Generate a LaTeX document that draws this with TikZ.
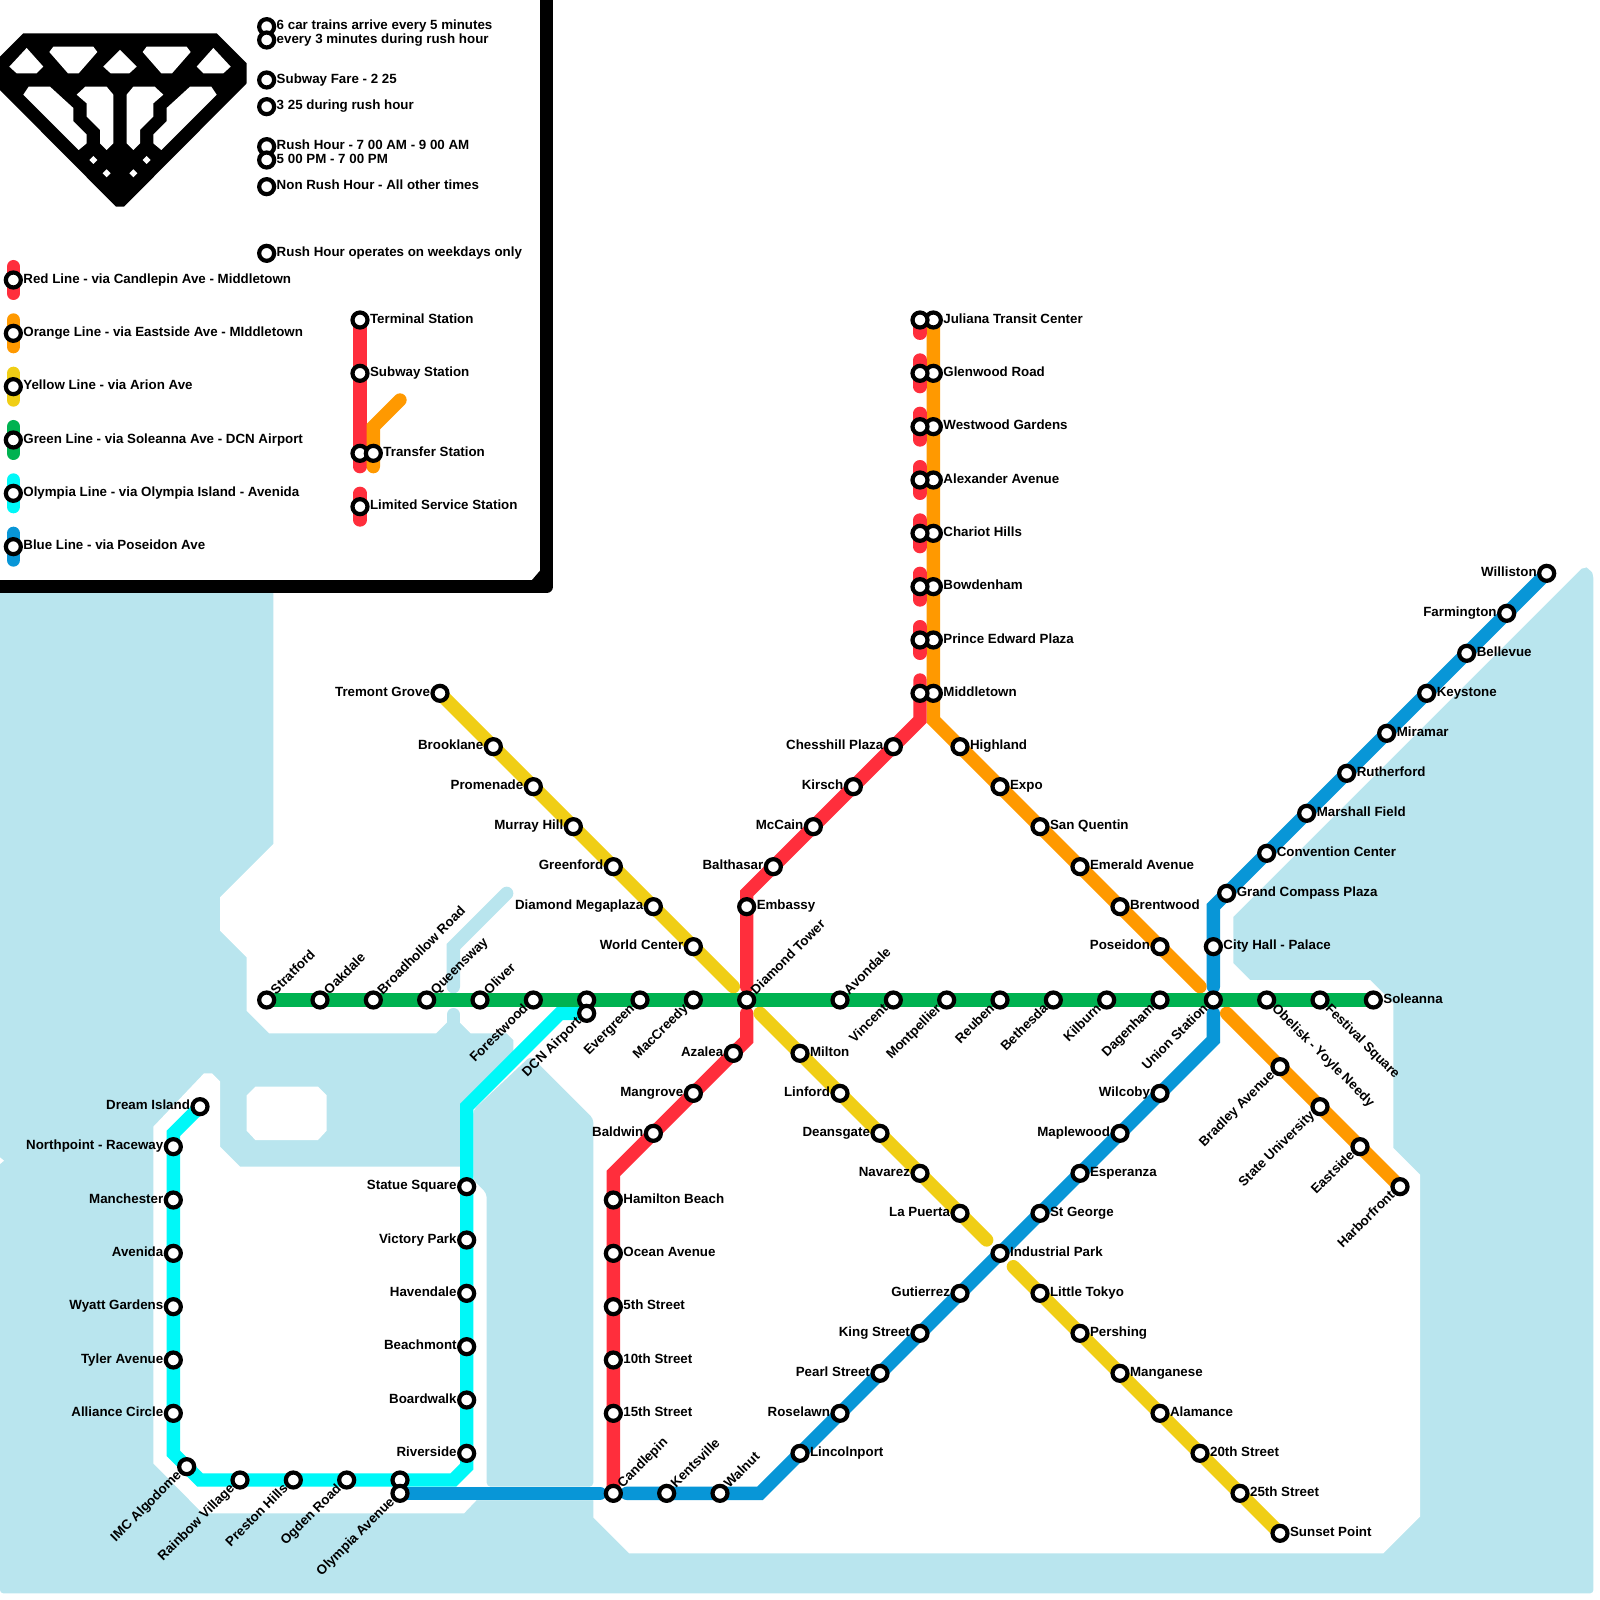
\documentclass[tikz,border=0pt]{standalone}
\usepackage{fontspec}
\setmainfont{Liberation Sans}
\usetikzlibrary{backgrounds}
\definecolor{redln}{HTML}{FF2E3C}
\definecolor{orangeln}{HTML}{FF9900}
\definecolor{yellowln}{HTML}{F0CE15}
\definecolor{greenln}{HTML}{00B251}
\definecolor{cyanln}{HTML}{00F8F8}
\definecolor{blueln}{HTML}{0896D7}
\definecolor{water}{HTML}{B9E5EE}
\tikzset{
  stn/.style={circle,draw=black,fill=white,line width=0.063cm,minimum size=0.225cm,inner sep=0pt,label distance=0.045cm},
  tag/.style={font=\fontsize{5.69}{6}\selectfont\bfseries,inner sep=0pt,text height=4pt,text depth=1.2pt},
  stnE/.style={stn,label={[tag,anchor=west]0:#1}},
  stnW/.style={stn,label={[tag,anchor=east]180:#1}},
  stnNE/.style={stn,label={[tag,rotate=45,anchor=west]45:#1}},
  stnSW/.style={stn,label={[tag,rotate=45,anchor=east]225:#1}},
  stnSE/.style={stn,label={[tag,rotate=-45,anchor=west]-45:#1}},
  metro/.style={line width=0.2cm,line cap=round,line join=miter}
}
% one half of the gem holes, the other half is mirrored
\newcommand{\gemhalf}{
  \fill[white] (2,3.6) -- (3.25,5) -- (2.75,5.5) -- (1.25,5.5) -- (0.7,5) -- cycle;
  \fill[white] (4,3.5) -- (7,3.5) -- (7.3,3.9) -- (5.9,5.5) -- (5.1,5.5) -- (3.7,3.9) -- cycle;
  \fill[white] (2.15,6.5) -- (3.75,6.5) -- (5.5,8.1) -- (5.5,9.1) -- (6.5,10.1) -- (6.5,10.75) -- (5.9,11.25) -- (1.75,7.1) -- cycle;
  \fill[white] (6.4,6.5) -- (8,6.5) -- (8.5,7.1) -- (8.5,10.75) -- (8,11.25) -- (7.5,10.75) -- (7.5,9.75) -- (6.5,8.75) -- (6.5,7.75) -- (5.75,7.1) -- cycle;
  \fill[white] (7,11.7) -- (7.3,12) -- (7,12.3) -- (6.7,12) -- cycle;
  \fill[white] (8,12.7) -- (8.3,13) -- (8,13.3) -- (7.7,13) -- cycle;
}
\begin{document}
\begin{tikzpicture}[x=0.2cm,y=-0.2cm]
\useasboundingbox (0,0) rectangle (120,120);

% legend
\node[stnE=6 car trains arrive every 5 minutes] (trains) at (20,2) {};
\node[stnE=every 3 minutes during rush hour] (rushtrains) at (20,3) {};
\node[stnE=Subway Fare - 2 25] (fare) at (20,6) {};
\node[stnE=3 25 during rush hour] (rushfare) at (20,8) {};
\node[stnE=Rush Hour - 7 00 AM - 9 00 AM] (rusham) at (20,11) {};
\node[stnE=5 00 PM - 7 00 PM] (rushpm) at (20,12) {};
\node[stnE=Non Rush Hour - All other times] (nonrush) at (20,14) {};
\node[stnE=Rush Hour operates on weekdays only] (weekdays) at (20,19) {};
\node[stnE=Red Line - via Candlepin Ave - Middletown] (keyred) at (1,21) {};
\node[stnE=Orange Line - via Eastside Ave - MIddletown] (keyorange) at (1,25) {};
\node[stnE=Yellow Line - via Arion Ave] (keyyellow) at (1,29) {};
\node[stnE=Green Line - via Soleanna Ave - DCN Airport] (keygreen) at (1,33) {};
\node[stnE=Olympia Line - via Olympia Island - Avenida] (keycyan) at (1,37) {};
\node[stnE=Blue Line - via Poseidon Ave] (keyblue) at (1,41) {};
\node[stnE=Terminal Station] (keyterm) at (27,24) {};
\node[stnE=Subway Station] (keysub) at (27,28) {};
\node[stn] (keytransa) at (27,34) {};
\node[stnE=Transfer Station] (keytransb) at (28,34) {};
\node[stnE=Limited Service Station] (keyltd) at (27,38) {};

% green line
\node[stnNE=Stratford] (stratford) at (20,75) {};
\node[stnNE=Oakdale] (oakdale) at (24,75) {};
\node[stnNE=Broadhollow Road] (broadhollow) at (28,75) {};
\node[stnNE=Queensway] (queensway) at (32,75) {};
\node[stnNE=Oliver] (oliver) at (36,75) {};
\node[stnSW=Forestwood] (forestwood) at (40,75) {};
\node[stn] (airporttop) at (44,75) {};
\node[stnSW=Evergreen] (evergreen) at (48,75) {};
\node[stnSW=MacCreedy] (maccreedy) at (52,75) {};
\node[stnNE=Diamond Tower] (diamondtower) at (56,75) {};
\node[stnNE=Avondale] (avondale) at (63,75) {};
\node[stnSW=Vincent] (vincent) at (67,75) {};
\node[stnSW=Montpellier] (montpellier) at (71,75) {};
\node[stnSW=Reuben] (reuben) at (75,75) {};
\node[stnSW=Bethesda] (bethesda) at (79,75) {};
\node[stnSW=Kilburn] (kilburn) at (83,75) {};
\node[stnSW=Dagenham] (dagenham) at (87,75) {};
\node[stnSW=Union Station] (union) at (91,75) {};
\node[stnSE=Obelisk - Yoyle Needy] (obelisk) at (95,75) {};
\node[stnSE=Festival Square] (festival) at (99,75) {};
\node[stnE=Soleanna] (soleanna) at (103,75) {};

% olympia line
\node[stnW=Dream Island] (dreamisland) at (15,83) {};
\node[stnW=Northpoint - Raceway] (northpoint) at (13,86) {};
\node[stnW=Manchester] (manchester) at (13,90) {};
\node[stnW=Avenida] (avenida) at (13,94) {};
\node[stnW=Wyatt Gardens] (wyatt) at (13,98) {};
\node[stnW=Tyler Avenue] (tyler) at (13,102) {};
\node[stnW=Alliance Circle] (alliance) at (13,106) {};
\node[stnSW=IMC Algodome] (imc) at (14,110) {};
\node[stnSW=Rainbow Village] (rainbow) at (18,111) {};
\node[stnSW=Preston Hills] (preston) at (22,111) {};
\node[stnSW=Ogden Road] (ogden) at (26,111) {};
\node[stn] (olympiatop) at (30,111) {};
\node[stnSW=Olympia Avenue] (olympiaave) at (30,112) {};
\node[stnW=Riverside] (riverside) at (35,109) {};
\node[stnW=Boardwalk] (boardwalk) at (35,105) {};
\node[stnW=Beachmont] (beachmont) at (35,101) {};
\node[stnW=Havendale] (havendale) at (35,97) {};
\node[stnW=Victory Park] (victory) at (35,93) {};
\node[stnW=Statue Square] (statue) at (35,89) {};
\node[stnSW=DCN Airport] (airport) at (44,76) {};

% blue line
\node[stnNE=Candlepin] (candlepin) at (46,112) {};
\node[stnNE=Kentsville] (kentsville) at (50,112) {};
\node[stnNE=Walnut] (walnut) at (54,112) {};
\node[stnE=Lincolnport] (lincolnport) at (60,109) {};
\node[stnW=Roselawn] (roselawn) at (63,106) {};
\node[stnW=Pearl Street] (pearl) at (66,103) {};
\node[stnW=King Street] (king) at (69,100) {};
\node[stnW=Gutierrez] (gutierrez) at (72,97) {};
\node[stnE=Industrial Park] (industrial) at (75,94) {};
\node[stnE=St George] (stgeorge) at (78,91) {};
\node[stnE=Esperanza] (esperanza) at (81,88) {};
\node[stnW=Maplewood] (maplewood) at (84,85) {};
\node[stnW=Wilcoby] (wilcoby) at (87,82) {};
\node[stnE=City Hall - Palace] (cityhall) at (91,71) {};
\node[stnE=Grand Compass Plaza] (compass) at (92,67) {};
\node[stnE=Convention Center] (convention) at (95,64) {};
\node[stnE=Marshall Field] (marshall) at (98,61) {};
\node[stnE=Rutherford] (rutherford) at (101,58) {};
\node[stnE=Miramar] (miramar) at (104,55) {};
\node[stnE=Keystone] (keystone) at (107,52) {};
\node[stnE=Bellevue] (bellevue) at (110,49) {};
\node[stnW=Farmington] (farmington) at (113,46) {};
\node[stnW=Williston] (williston) at (116,43) {};

% orange line
\node[stnE=Juliana Transit Center] (juliana) at (70,24) {};
\node[stnE=Glenwood Road] (glenwood) at (70,28) {};
\node[stnE=Westwood Gardens] (westwood) at (70,32) {};
\node[stnE=Alexander Avenue] (alexander) at (70,36) {};
\node[stnE=Chariot Hills] (chariot) at (70,40) {};
\node[stnE=Bowdenham] (bowdenham) at (70,44) {};
\node[stnE=Prince Edward Plaza] (prince) at (70,48) {};
\node[stnE=Middletown] (middletown) at (70,52) {};
\node[stnE=Highland] (highland) at (72,56) {};
\node[stnE=Expo] (expo) at (75,59) {};
\node[stnE=San Quentin] (sanquentin) at (78,62) {};
\node[stnE=Emerald Avenue] (emerald) at (81,65) {};
\node[stnE=Brentwood] (brentwood) at (84,68) {};
\node[stnW=Poseidon] (poseidon) at (87,71) {};
\node[stnSW=Bradley Avenue] (bradley) at (96,80) {};
\node[stnSW=State University] (stateuni) at (99,83) {};
\node[stnSW=Eastside] (eastside) at (102,86) {};
\node[stnSW=Harborfront] (harborfront) at (105,89) {};

% red line
\node[stn] (red24) at (69,24) {};
\node[stn] (red28) at (69,28) {};
\node[stn] (red32) at (69,32) {};
\node[stn] (red36) at (69,36) {};
\node[stn] (red40) at (69,40) {};
\node[stn] (red44) at (69,44) {};
\node[stn] (red48) at (69,48) {};
\node[stn] (red52) at (69,52) {};
\node[stnW=Chesshill Plaza] (chesshill) at (67,56) {};
\node[stnW=Kirsch] (kirsch) at (64,59) {};
\node[stnW=McCain] (mccain) at (61,62) {};
\node[stnW=Balthasar] (balthasar) at (58,65) {};
\node[stnE=Embassy] (embassy) at (56,68) {};
\node[stnW=Azalea] (azalea) at (55,79) {};
\node[stnW=Mangrove] (mangrove) at (52,82) {};
\node[stnW=Baldwin] (baldwin) at (49,85) {};
\node[stnE=Hamilton Beach] (hamilton) at (46,90) {};
\node[stnE=Ocean Avenue] (ocean) at (46,94) {};
\node[stnE=5th Street] (fifth) at (46,98) {};
\node[stnE=10th Street] (tenth) at (46,102) {};
\node[stnE=15th Street] (fifteenth) at (46,106) {};

% yellow line
\node[stnW=Tremont Grove] (tremont) at (33,52) {};
\node[stnW=Brooklane] (brooklane) at (37,56) {};
\node[stnW=Promenade] (promenade) at (40,59) {};
\node[stnW=Murray Hill] (murray) at (43,62) {};
\node[stnW=Greenford] (greenford) at (46,65) {};
\node[stnW=Diamond Megaplaza] (megaplaza) at (49,68) {};
\node[stnW=World Center] (worldcenter) at (52,71) {};
\node[stnE=Milton] (milton) at (60,79) {};
\node[stnW=Linford] (linford) at (63,82) {};
\node[stnW=Deansgate] (deansgate) at (66,85) {};
\node[stnW=Navarez] (navarez) at (69,88) {};
\node[stnW=La Puerta] (lapuerta) at (72,91) {};
\node[stnE=Little Tokyo] (littletokyo) at (78,97) {};
\node[stnE=Pershing] (pershing) at (81,100) {};
\node[stnE=Manganese] (manganese) at (84,103) {};
\node[stnE=Alamance] (alamance) at (87,106) {};
\node[stnE=20th Street] (twentieth) at (90,109) {};
\node[stnE=25th Street] (twentyfifth) at (93,112) {};
\node[stnE=Sunset Point] (sunset) at (96,115) {};

% bends and free ends of the lines
\coordinate (olyA) at (13,85);
\coordinate (olyB) at (13,109);
\coordinate (olyC) at (15,111);
\coordinate (olyD) at (34,111);
\coordinate (olyE) at (35,110);
\coordinate (olyF) at (35,83);
\coordinate (olyG) at (42,76);
\coordinate (bluA) at (45,112);
\coordinate (bluB) at (47,112);
\coordinate (bluC) at (57,112);
\coordinate (bluD) at (91,78);
\coordinate (bluE) at (91,76);
\coordinate (bluF) at (91,74);
\coordinate (bluG) at (91,68);
\coordinate (oraA) at (70,54);
\coordinate (oraB) at (90,74);
\coordinate (oraC) at (92,76);
\coordinate (redA) at (69,54);
\coordinate (redB) at (56,67);
\coordinate (redC) at (56,74);
\coordinate (redD) at (56,76);
\coordinate (redE) at (56,78);
\coordinate (redF) at (46,88);
\coordinate (yelA) at (55,74);
\coordinate (yelB) at (57,76);
\coordinate (yelC) at (74,93);
\coordinate (yelD) at (76,95);
\coordinate (ltd24) at (69,25);
\coordinate (ltd27) at (69,27);
\coordinate (ltd29) at (69,29);
\coordinate (ltd31) at (69,31);
\coordinate (ltd33) at (69,33);
\coordinate (ltd35) at (69,35);
\coordinate (ltd37) at (69,37);
\coordinate (ltd39) at (69,39);
\coordinate (ltd41) at (69,41);
\coordinate (ltd43) at (69,43);
\coordinate (ltd45) at (69,45);
\coordinate (ltd47) at (69,47);
\coordinate (ltd49) at (69,49);
\coordinate (ltd51) at (69,51);

\begin{scope}[on background layer]
% water and land
\fill[water,rounded corners=0.05cm] (0,41.9) rectangle (119.5,119.5);
\fill[white] (20.5,41.8) -- (20.5,63.3) -- (16.5,67.3) -- (16.5,69.8) -- (18.5,71.8) -- (18.5,75.8) -- (20.2,77.5) -- (32.7,77.5) -- (33.5,76.7) -- (34.5,76.7) -- (35.3,77.5) -- (38,77.5) -- (38.5,78) -- (38.5,79.5) -- (35,83) -- (35,87.5) -- (18,87.5) -- (16.5,86) -- (16.5,81.1) -- (15.9,80.5) -- (15.3,80.5) -- (11.5,84.5) -- (11.5,109.75) -- (15.2,113.5) -- (34.8,113.5) -- (35.75,112.5) -- (44.5,112.5) -- (44.5,113.8) -- (47.2,116.5) -- (103.75,116.5) -- (106.5,113.75) -- (106.5,88.1) -- (104.5,86.1) -- (104.5,75.25) -- (102.75,73.5) -- (93.75,73.5) -- (92.5,72.25) -- (92.5,68.75) -- (118.6,42.65) -- (119,42.55) -- (119.4,42.9) -- (119.55,43.4) -- (119.6,41.8) -- cycle;
\fill[water,rounded corners=0.06cm] (35.5,83.25) -- (39.8,79.2) -- (44.5,83.9) -- (44.5,111.5) -- (36.5,111.5) -- (36.5,89.5) -- (35.5,88.5) -- cycle;
\fill[white] (19.15,81.5) -- (23.85,81.5) -- (24.5,82.15) -- (24.5,84.8) -- (23.85,85.5) -- (19.15,85.5) -- (18.5,84.8) -- (18.5,82.15) -- cycle;
\draw[metro,water] (38,67) -- (34,71) -- (34,74);
\draw[metro,water] (34,76.1) -- (34,77.2);
\fill[white] (0,86.8) -- (0.3,87.05) -- (0,87.3) -- cycle;

% legend box and gem
\fill[white] (0,0) rectangle (41,44);
\draw[line width=0.2cm,line join=round] (-1,44) -- (41,44) -- (41,-1);
\fill[black] (39.9,43.5) -- (40.5,42.8) -- (40.5,43.5) -- cycle;
\fill[black] (1.75,2.5) -- (16.25,2.5) -- (18.5,4.75) -- (18.5,6.25) -- (9.3,15.5) -- (8.7,15.5) -- (-0.5,6.25) -- (-0.5,4.75) -- cycle;
\gemhalf
\begin{scope}[shift={(18,0)},xscale=-1]
\gemhalf
\end{scope}
\fill[white] (9,3.75) -- (10.25,5) -- (9.7,5.5) -- (8.3,5.5) -- (7.75,5) -- cycle;

% legend samples
\coordinate (keyA) at (1,20);
\coordinate (keyB) at (1,22);
\coordinate (keyC) at (1,24);
\coordinate (keyD) at (1,26);
\coordinate (keyE) at (1,28);
\coordinate (keyF) at (1,30);
\coordinate (keyG) at (1,32);
\coordinate (keyH) at (1,34);
\coordinate (keyI) at (1,36);
\coordinate (keyJ) at (1,38);
\coordinate (keyK) at (1,40);
\coordinate (keyL) at (1,42);
\coordinate (keyM) at (27,35);
\coordinate (keyN) at (28,35);
\coordinate (keyO) at (28,32);
\coordinate (keyP) at (30,30);
\coordinate (keyQ) at (27,37);
\coordinate (keyR) at (27,39);
\draw[metro,redln] (keyA) -- (keyB);
\draw[metro,orangeln] (keyC) -- (keyD);
\draw[metro,yellowln] (keyE) -- (keyF);
\draw[metro,greenln] (keyG) -- (keyH);
\draw[metro,cyanln] (keyI) -- (keyJ);
\draw[metro,blueln] (keyK) -- (keyL);
\draw[metro,redln] (keyterm.center) -- (keyM);
\draw[metro,orangeln] (keyN) -- (keyO) -- (keyP);
\draw[metro,redln] (keyQ) -- (keyR);

% lines
\draw[metro,cyanln] (dreamisland.center) -- (olyA) -- (olyB) -- (olyC) -- (olyD) -- (olyE) -- (olyF) -- (olyG) -- (airport.center);
\draw[metro,blueln] (olympiaave.center) -- (bluA);
\draw[metro,blueln] (bluB) -- (bluC) -- (bluD) -- (bluE);
\draw[metro,blueln] (bluF) -- (bluG) -- (williston.center);
\draw[metro,orangeln] (juliana.center) -- (oraA) -- (oraB);
\draw[metro,orangeln] (oraC) -- (harborfront.center);
\draw[metro,redln] (red24.center) -- (ltd24);
\draw[metro,redln] (ltd27) -- (ltd29);
\draw[metro,redln] (ltd31) -- (ltd33);
\draw[metro,redln] (ltd35) -- (ltd37);
\draw[metro,redln] (ltd39) -- (ltd41);
\draw[metro,redln] (ltd43) -- (ltd45);
\draw[metro,redln] (ltd47) -- (ltd49);
\draw[metro,redln] (ltd51) -- (redA) -- (redB) -- (redC);
\draw[metro,redln] (redD) -- (redE) -- (redF) -- (candlepin.center);
\draw[metro,yellowln] (tremont.center) -- (yelA);
\draw[metro,yellowln] (yelB) -- (yelC);
\draw[metro,yellowln] (yelD) -- (sunset.center);
\draw[metro,greenln] (stratford.center) -- (soleanna.center);
\end{scope}
\end{tikzpicture}
\end{document}
